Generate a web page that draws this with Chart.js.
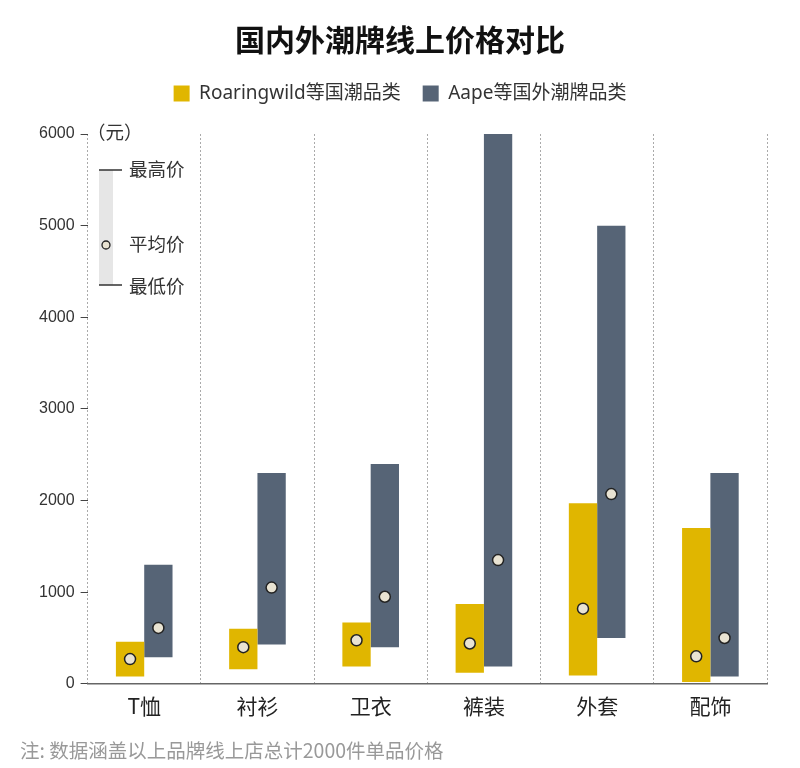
<!DOCTYPE html>
<html>
<head>
<meta charset="utf-8">
<script src="https://cdn.jsdelivr.net/npm/chart.js@4"></script>
<style>
  html, body { margin: 0; padding: 0; background: #fff; }
  #wrap { width: 800px; height: 768px; }
</style>
</head>
<body>
<div id="wrap"><canvas id="myChart" width="800" height="768"></canvas></div>
<script>
const categories = ['T恤', '衬衫', '卫衣', '裤装', '外套', '配饰']

// 国潮 (Roaringwild 等)
const localMin = [80, 160, 190, 120, 90, 20]
const localMax = [460, 600, 670, 870, 1970, 1700]
const localAvg = [270, 400, 475, 440, 820, 300]

// 国外潮牌 (Aape 等)
const foreignMin = [290, 430, 400, 190, 500, 80]
const foreignMax = [1300, 2300, 2400, 6000, 5000, 2300]
const foreignAvg = [610, 1050, 950, 1350, 2070, 500]

const yTicks = [0, 1000, 2000, 3000, 4000, 5000, 6000]

const cjk = "'Noto Sans CJK SC', 'Noto Sans', sans-serif"

const ctx = document.querySelector('#myChart').getContext('2d')

// 图例下面留点空
const legendGap = {
  id: 'legendGap',
  beforeInit(chart) {
    const fit = chart.legend.fit
    chart.legend.fit = function () {
      fit.bind(chart.legend)()
      this.height += 21
    }
  }
}

// 平均价的圆点 + 左上角的图例说明 + 底部注释
const extras = {
  id: 'extras',
  afterDatasetsDraw(chart) {
    const {ctx, scales: {y}} = chart
    const avgs = [localAvg, foreignAvg]
    ctx.save()
    avgs.forEach((arr, di) => {
      const meta = chart.getDatasetMeta(di)
      meta.data.forEach((bar, i) => {
        ctx.beginPath()
        ctx.arc(bar.x, y.getPixelForValue(arr[i]), 5.5, 0, Math.PI * 2)
        ctx.fillStyle = '#e9e3d2'
        ctx.fill()
        ctx.lineWidth = 1.5
        ctx.strokeStyle = '#222'
        ctx.stroke()
      })
    })

    // 图例说明
    ctx.fillStyle = '#e6e6e6'
    ctx.fillRect(99, 170, 14, 115)
    ctx.strokeStyle = '#333'
    ctx.lineWidth = 1.4
    ctx.beginPath()
    ctx.moveTo(99, 170); ctx.lineTo(122, 170)
    ctx.moveTo(99, 285); ctx.lineTo(122, 285)
    ctx.stroke()
    ctx.beginPath()
    ctx.arc(106, 245, 4, 0, Math.PI * 2)
    ctx.fillStyle = '#e9e3d2'
    ctx.fill()
    ctx.lineWidth = 1.3
    ctx.strokeStyle = '#222'
    ctx.stroke()

    ctx.fillStyle = '#333'
    ctx.font = "18.5px " + cjk
    ctx.textBaseline = 'middle'
    ctx.textAlign = 'left'
    ctx.fillText('（元）', 87, 132)
    ctx.fillText('最高价', 129, 169)
    ctx.fillText('平均价', 129, 244)
    ctx.fillText('最低价', 129, 286)

    ctx.fillStyle = '#999'
    ctx.font = "19.5px " + cjk
    ctx.fillText('注: 数据涵盖以上品牌线上店总计2000件单品价格', 20, 751)
    ctx.restore()
  }
}

const config = {
  type: 'bar',
  data: {
    labels: categories,
    datasets: [
      {
        label: 'Roaringwild等国潮品类',
        data: localMin.map((v, i) => [v, localMax[i]]),
        backgroundColor: '#e0b600',
      },
      {
        label: 'Aape等国外潮牌品类',
        data: foreignMin.map((v, i) => [v, foreignMax[i]]),
        backgroundColor: '#566476',
      }
    ]
  },
  plugins: [legendGap, extras],
  options: {
    responsive: false,
    animation: false,
    categoryPercentage: 0.5,
    barPercentage: 1,
    layout: { padding: { left: 33, right: 33, top: 0, bottom: 39 } },
    scales: {
      x: {
        offset: true,
        grid: {
          offset: true,
          color: '#aaa',
          lineWidth: 1,
          drawTicks: false
        },
        border: { display: true, color: '#666', width: 1.5, dash: [2, 2] },
        ticks: {
          color: '#222',
          padding: 10,
          font: { size: 21, family: cjk }
        }
      },
      y: {
        min: 0,
        max: 6000,
        afterBuildTicks: axis => { axis.ticks = yTicks.map(v => ({ value: v })) },
        grid: {
          drawOnChartArea: false,
          tickColor: '#444',
          tickLength: 7
        },
        border: { display: false },
        ticks: {
          color: '#333',
          padding: 6,
          callback: v => String(v),
          font: { size: 16, family: "'Liberation Sans', sans-serif" }
        }
      }
    },
    plugins: {
      title: {
        display: true,
        text: '国内外潮牌线上价格对比',
        color: '#111',
        font: { size: 30, weight: 'bold', family: cjk },
        padding: { top: 22, bottom: 4 }
      },
      legend: {
        labels: {
          color: '#333',
          boxWidth: 16,
          boxHeight: 16,
          padding: 22,
          font: { size: 19, family: "'Noto Sans', " + cjk }
        }
      },
      tooltip: { enabled: false }
    }
  }
}

const myChart = new Chart(ctx, config)
</script>
</body>
</html>
